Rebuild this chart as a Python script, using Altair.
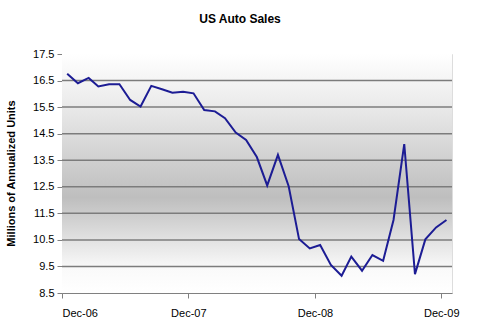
import altair as alt
import pandas as pd

months = [
    "2006-12-16",
    "2007-01-16", "2007-02-16", "2007-03-16", "2007-04-16", "2007-05-16", "2007-06-16",
    "2007-07-16", "2007-08-16", "2007-09-16", "2007-10-16", "2007-11-16", "2007-12-16",
    "2008-01-16", "2008-02-16", "2008-03-16", "2008-04-16", "2008-05-16", "2008-06-16",
    "2008-07-16", "2008-08-16", "2008-09-16", "2008-10-16", "2008-11-16", "2008-12-16",
    "2009-01-16", "2009-02-16", "2009-03-16", "2009-04-16", "2009-05-16", "2009-06-16",
    "2009-07-16", "2009-08-16", "2009-09-16", "2009-10-16", "2009-11-16", "2009-12-16",
]
sales = [
    16.76,
    16.40, 16.60, 16.28, 16.36, 16.36, 15.77,
    15.52, 16.30, 16.17, 16.04, 16.08, 16.02,
    15.39, 15.34, 15.08, 14.54, 14.26, 13.62,
    12.55, 13.70, 12.52, 10.53, 10.18, 10.31,
    9.56, 9.15, 9.87, 9.34, 9.93, 9.71,
    11.25, 14.11, 9.21, 10.52, 10.97, 11.25,
]
y_ticks = [8.5, 9.5, 10.5, 11.5, 12.5, 13.5, 14.5, 15.5, 16.5, 17.5]
grid_vals = [9.5, 10.5, 11.5, 12.5, 13.5, 14.5, 15.5, 16.5]

df = pd.DataFrame({"month": months, "sales": sales})
gdf = pd.DataFrame({"sales": grid_vals})

FONT = "Liberation Sans"

x_scale = alt.Scale(
    type="utc",
    domain=[alt.DateTime(year=2006, month=12, date=1, utc=True),
            alt.DateTime(year=2010, month=1, date=1, utc=True)],
)
y_scale = alt.Scale(domain=[8.5, 17.5], nice=False, zero=False)

x_enc = alt.X(
    "month:T",
    scale=x_scale,
    axis=alt.Axis(
        title=None,
        values=[alt.DateTime(year=y, month=12, date=1, utc=True) for y in (2006, 2007, 2008, 2009)],
        format="%b-%y",
        grid=False,
        domainColor="#808080",
        tickColor="#808080",
        tickSize=5,
        labelFontSize=11,
        labelPadding=9,
        labelColor="#000000",
        labelFont=FONT,
    ),
)

y_axis = alt.Axis(
    title="Millions of Annualized Units",
    titleFont=FONT,
    titleFontSize=11,
    titleFontWeight="bold",
    titleColor="#000000",
    titleX=-46,
    titleY=119,
    titleAngle=-90,
    titleAlign="center",
    values=y_ticks,
    format=".1f",
    grid=False,
    domainColor="#808080",
    tickColor="#808080",
    tickSize=5,
    labelFontSize=11,
    labelPadding=3,
    labelColor="#000000",
    labelFont=FONT,
)

bg = alt.Chart(pd.DataFrame({"k": [0]})).mark_rect(
    color=alt.Gradient(
        gradient="linear",
        x1=0, x2=0, y1=0, y2=1,
        stops=[
            alt.GradientStop(offset=0, color="#ffffff"),
            alt.GradientStop(offset=0.2, color="#ececec"),
            alt.GradientStop(offset=0.6, color="#bebebe"),
            alt.GradientStop(offset=0.9, color="#fafafa"),
            alt.GradientStop(offset=1, color="#ffffff"),
        ],
    )
).encode(
    x=alt.value(0), x2=alt.value("width"), y=alt.value(0), y2=alt.value("height")
)

grid = alt.Chart(gdf).mark_rule(color="#7c7c7c", strokeWidth=1.5).encode(
    y=alt.Y("sales:Q", scale=y_scale, axis=y_axis)
)

line = alt.Chart(df).mark_line(color="#1c1c94", strokeWidth=2).encode(
    x=x_enc, y=alt.Y("sales:Q", scale=y_scale, axis=y_axis)
)

chart = alt.layer(bg, grid, line).properties(
    width=390,
    height=239,
    autosize="none",
    padding={"left": 62, "top": 54, "right": 28, "bottom": 35},
    title=alt.TitleParams(
        "US Auto Sales",
        font=FONT,
        fontSize=12,
        fontWeight="bold",
        color="#000000",
        anchor="middle",
        dx=-17,
        offset=22,
    ),
).configure_view(stroke="#c8c8c8", strokeWidth=1.5).configure(background="#ffffff")

chart.save("out.html", embed_options={"renderer": "svg", "actions": False})
